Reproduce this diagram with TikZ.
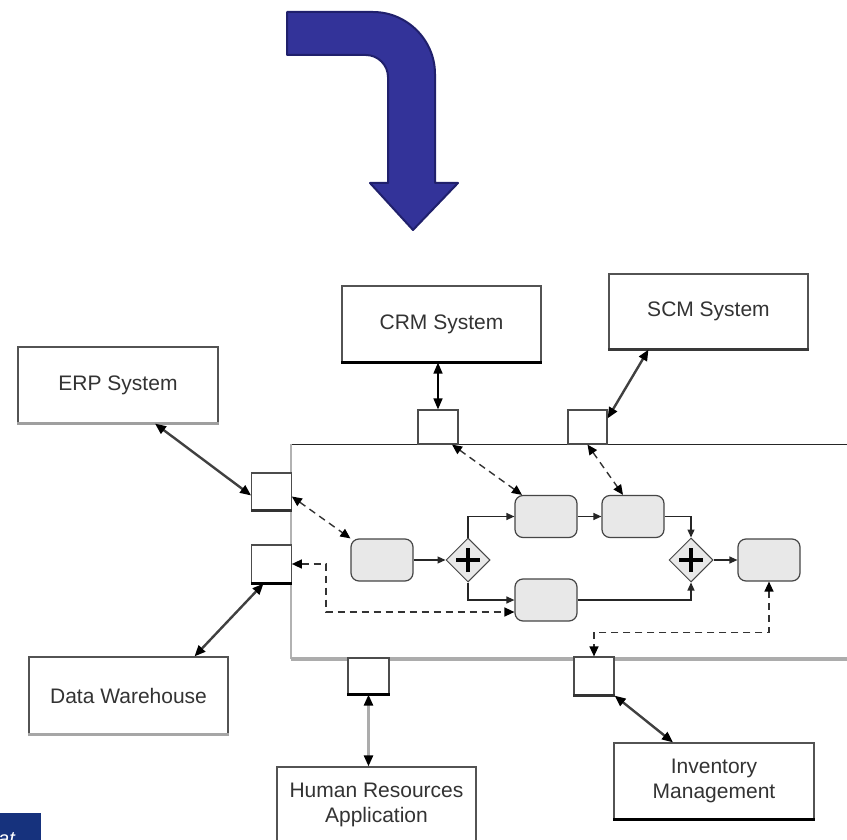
\documentclass[tikz,border=0pt]{standalone}
\usepackage{fontspec}
\setmainfont{Liberation Sans}
\usetikzlibrary{shapes.geometric,arrows.meta,calc}
\definecolor{arrowblue}{RGB}{51,51,153}
\definecolor{arrowedge}{RGB}{32,32,108}
\definecolor{taskfill}{RGB}{232,232,232}
\definecolor{tagblue}{RGB}{22,50,125}
\begin{document}
\begin{tikzpicture}[x=1pt,y=-1pt,
  sysbox/.style={draw=gray!65!black, line width=1.2pt, fill=white, inner sep=0pt,
    align=center, font=\fontsize{21}{25}\selectfont, text=black!80},
  port/.style={draw=gray!60!black, line width=1.2pt, fill=white, inner sep=0pt,
    minimum width=40pt, minimum height=36pt},
  task/.style={draw=gray!55!black, line width=1.2pt, fill=taskfill, rounded corners=8pt,
    minimum width=62pt, minimum height=42pt, inner sep=0pt},
  gate/.style={diamond, draw=gray!55!black, line width=1pt, fill=taskfill,
    minimum width=44pt, minimum height=44pt, inner sep=0pt,
    path picture={\draw[black, line width=4.5pt]
      ([xshift=-12pt]path picture bounding box.center) -- ([xshift=12pt]path picture bounding box.center)
      ([yshift=-12pt]path picture bounding box.center) -- ([yshift=12pt]path picture bounding box.center);}},
  flow/.style={draw=gray!30!black, line width=1.2pt, -{Triangle[length=8pt,width=7pt]}},
  msg/.style={draw=black!80, line width=1.4pt, dash pattern=on 7pt off 5pt,
    {Triangle[length=10pt,width=9pt,color=black]}-{Triangle[length=10pt,width=9pt,color=black]}},
  link/.style={draw=gray!50!black, line width=2.4pt,
    {Triangle[length=11pt,width=9pt,color=black]}-{Triangle[length=11pt,width=9pt,color=black]}},
  edgeline/.style={line width=3pt}
]
\useasboundingbox (0,0) rectangle (847,840);
\clip (0,0) rectangle (847,840);

% bent arrow at the top
\draw[fill=arrowblue, draw=arrowedge, line width=2pt, line join=round]
  (287,12) -- (373,12) .. controls (407,12) and (435,40) .. (435,74)
  -- (435,183) -- (458,183) -- (413,230) -- (370,183) -- (388,183)
  -- (388,77) .. controls (388,65) and (378,55) .. (366,55)
  -- (287,55) -- cycle;

% process pool
\node[draw=black!85, line width=1pt, fill=white, inner sep=0pt,
  minimum width=579pt, minimum height=214pt] (pool) at (580.5,551) {};
\draw[gray!60, line width=2pt] (pool.north west) -- (pool.south west);
\draw[gray!65, line width=4pt] (pool.south west) -- (pool.south east);

% external systems
\node[sysbox, minimum width=200pt, minimum height=76pt] (erp) at (118,385) {ERP System};
\node[sysbox, minimum width=199pt, minimum height=76pt] (crm) at (441.5,324) {CRM System};
\node[sysbox, minimum width=199pt, minimum height=75pt] (scm) at (708.5,311.5) {SCM System};
\node[sysbox, minimum width=199pt, minimum height=77pt] (dw) at (128.5,695.5) {Data Warehouse};
\node[sysbox, minimum width=199pt, minimum height=76pt] (hr) at (376.5,805) {Human Resources\\Application};
\node[sysbox, minimum width=200pt, minimum height=76pt] (inv) at (714,781) {Inventory\\Management};

% interface ports on the pool
\node[port, minimum width=39.5pt, minimum height=37pt] (erpport) at (271.5,491.5) {};
\node[port, minimum width=39.5pt, minimum height=38pt] (dwport) at (271.5,564) {};
\node[port, minimum height=34pt] (crmport) at (438,427) {};
\node[port, minimum width=39pt, minimum height=34pt] (scmport) at (587.5,427) {};
\node[port, minimum width=41pt] (hrport) at (368.5,676) {};
\node[port, minimum height=38pt] (invport) at (594,676) {};

% heavier lower edges
\foreach \n/\c in {erp/gray!75, crm/black, scm/gray!45!black, dw/gray!70, hr/black!80,
  inv/black, erpport/gray!40!black, dwport/black, hrport/black, invport/gray!40!black}
  \draw[edgeline, \c] (\n.south west) -- (\n.south east);

% activities and gateways
\node[task] (t1) at (382,560) {};
\node[gate] (g1) at (468,560) {};
\node[task] (t2) at (546,516.5) {};
\node[task] (t3) at (546,600) {};
\node[task] (t4) at (633,516.5) {};
\node[gate] (g2) at (691,560) {};
\node[task] (t5) at (769,560) {};

% sequence flows
\draw[flow] (t1) -- (g1);
\draw[flow] (g1.north) |- (t2.west);
\draw[flow] (g1.south) |- (t3.west);
\draw[flow] (t2) -- (t4);
\draw[flow] (t4.east) -| (g2.north);
\draw[flow] (t3.east) -| (g2.south);
\draw[flow] (g2) -- (t5);

% data exchanges inside the pool
\draw[msg] ([yshift=-5pt]erpport.east) -- (t1.north west);
\draw[msg] (dwport.east) -- ++(34,0) |- ([yshift=-12pt]t3.west);
\draw[msg] ([xshift=14pt]crmport.south) -- ([xshift=-24pt]t2.north);
\draw[msg] (scmport.south) -- ([xshift=-10pt]t4.north);
\draw[msg] (t5.south) -- ++(0,51) -| (invport.north);

% links to the external systems
\draw[link] ([xshift=37pt]erp.south) -- ([yshift=-4pt]erpport.west);
\draw[link, draw=black, line width=1.6pt] (crmport.north |- crm.south) -- (crmport.north);
\draw[link] ([xshift=-60pt]scm.south) -- ([yshift=-9pt]scmport.north east);
\draw[link] ([xshift=-8pt]dwport.south) -- ([xshift=66pt]dw.north);
\draw[link, draw=gray!65] (hrport.south) -- (hrport.south |- hr.north);
\draw[link] (invport.south east) -- ([xshift=-41pt]inv.north);

% corner tag
\fill[tagblue] (0,813) rectangle (41,845);
\node[anchor=base west, inner sep=0pt, text=white, font=\fontsize{20}{24}\selectfont\itshape] (tag) at (-2,845) {at};
\end{tikzpicture}
\end{document}
